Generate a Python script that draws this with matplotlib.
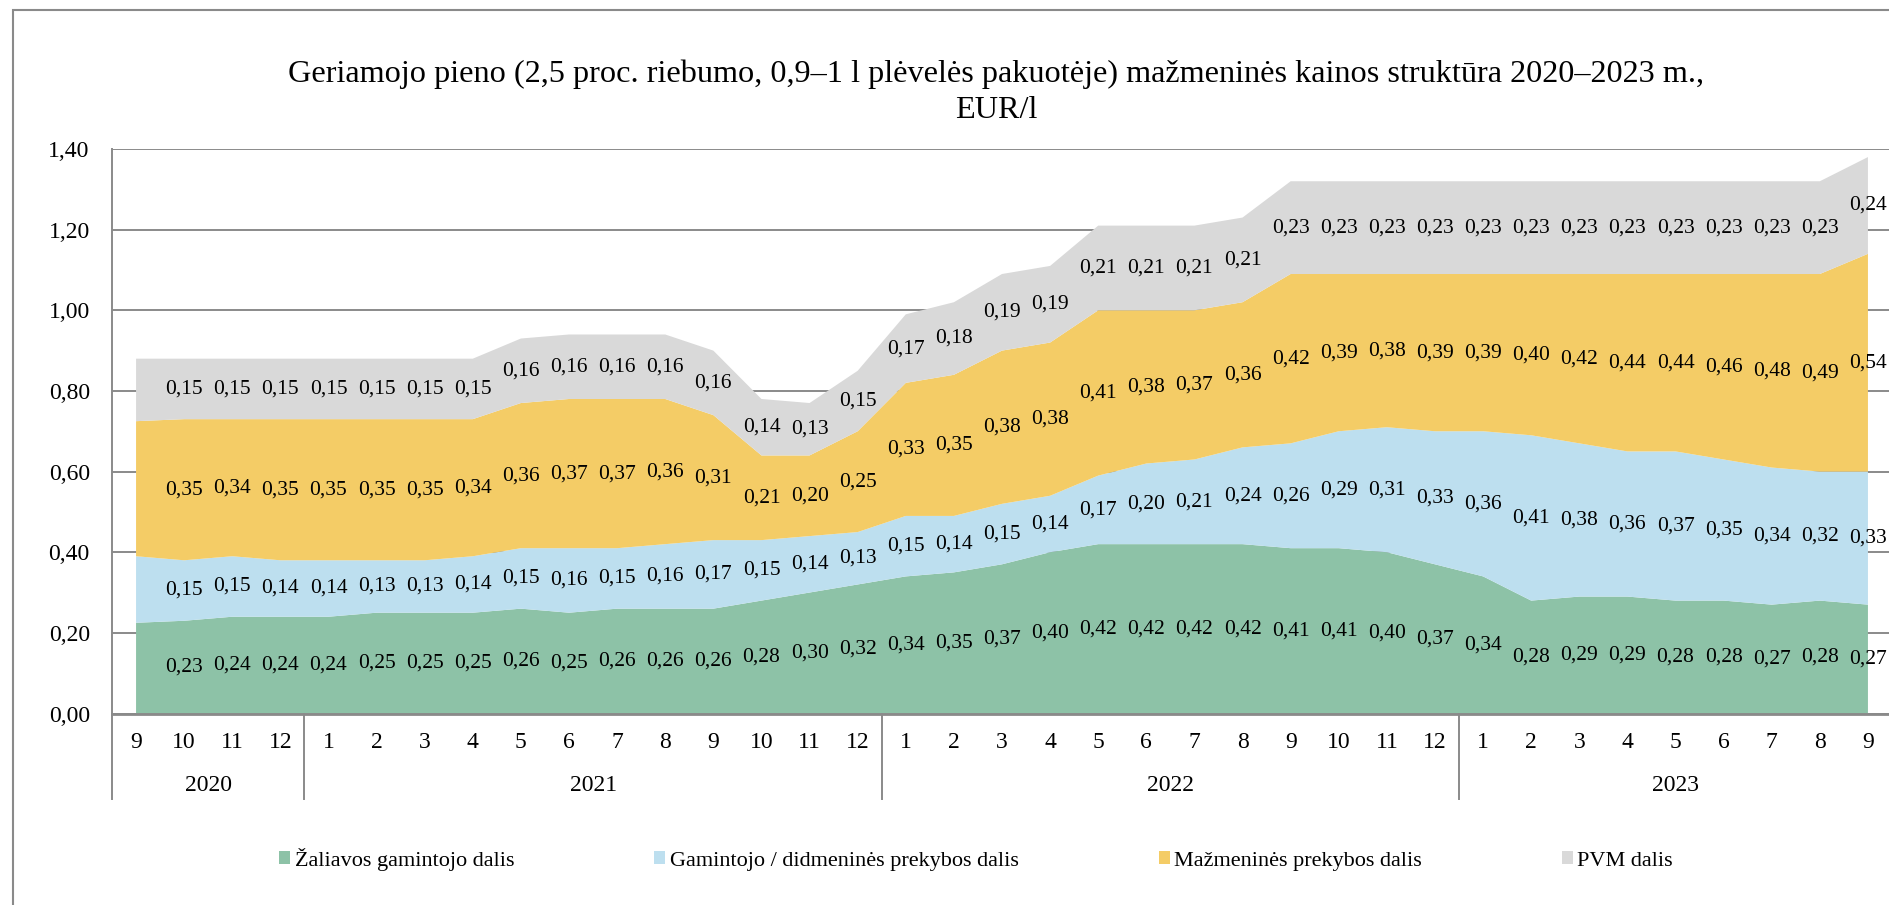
import matplotlib
matplotlib.use("Agg")
import matplotlib.pyplot as plt
from matplotlib.patches import Patch, Rectangle

plt.rcParams['font.family'] = ['Liberation Serif', 'DejaVu Serif']

# months 2020-09 .. 2023-09
months = ['9', '10', '11', '12'] + [str(m) for m in range(1, 13)] * 2 + [str(m) for m in range(1, 10)]
years = ['2020', '2021', '2022', '2023']
year_sizes = [4, 12, 12, 9]

series_names = ['Žaliavos gamintojo dalis', 'Gamintojo / didmeninės prekybos dalis',
                'Mažmeninės prekybos dalis', 'PVM dalis']
colors = ['#8DC2A7', '#BDDFEF', '#F4CC66', '#D9D9D9']

green = [0.225, 0.23, 0.24, 0.24,
         0.24, 0.25, 0.25, 0.25, 0.26, 0.25, 0.26, 0.26, 0.26, 0.28, 0.30, 0.32,
         0.34, 0.35, 0.37, 0.40, 0.42, 0.42, 0.42, 0.42, 0.41, 0.41, 0.40, 0.37,
         0.34, 0.28, 0.29, 0.29, 0.28, 0.28, 0.27, 0.28, 0.27]
blue = [0.165, 0.15, 0.15, 0.14,
        0.14, 0.13, 0.13, 0.14, 0.15, 0.16, 0.15, 0.16, 0.17, 0.15, 0.14, 0.13,
        0.15, 0.14, 0.15, 0.14, 0.17, 0.20, 0.21, 0.24, 0.26, 0.29, 0.31, 0.33,
        0.36, 0.41, 0.38, 0.36, 0.37, 0.35, 0.34, 0.32, 0.33]
orange = [0.335, 0.35, 0.34, 0.35,
          0.35, 0.35, 0.35, 0.34, 0.36, 0.37, 0.37, 0.36, 0.31, 0.21, 0.20, 0.25,
          0.33, 0.35, 0.38, 0.38, 0.41, 0.38, 0.37, 0.36, 0.42, 0.39, 0.38, 0.39,
          0.39, 0.40, 0.42, 0.44, 0.44, 0.46, 0.48, 0.49, 0.54]
pvm = [0.155, 0.15, 0.15, 0.15,
       0.15, 0.15, 0.15, 0.15, 0.16, 0.16, 0.16, 0.16, 0.16, 0.14, 0.13, 0.15,
       0.17, 0.18, 0.19, 0.19, 0.21, 0.21, 0.21, 0.21, 0.23, 0.23, 0.23, 0.23,
       0.23, 0.23, 0.23, 0.23, 0.23, 0.23, 0.23, 0.23, 0.24]

yticks = [0.0, 0.2, 0.4, 0.6, 0.8, 1.0, 1.2, 1.4]

W, H = 1890, 905
fig = plt.figure(figsize=(W / 100, H / 100), dpi=100)
ax = fig.add_axes([112 / W, (H - 713.5) / H, 1780 / W, (713.5 - 149) / H])

x = list(range(len(months)))
series = [green, blue, orange, pvm]
ax.stackplot(x, *series, colors=colors, linewidth=0, zorder=2)

# data labels in the middle of each band (first month has none)
base = [0.0] * len(x)
for vals in series:
    for i in range(1, len(x)):
        ax.text(i, base[i] + vals[i] / 2, f"{vals[i]:.2f}".replace('.', ','),
                ha='center', va='center', fontsize=15.5, zorder=5, clip_on=False)
    base = [b + v for b, v in zip(base, vals)]

grid_c = '#8A8A8A'
ax.set_xlim(-0.5, len(x) - 0.5)
ax.set_ylim(0, 1.4)
ax.set_yticks(yticks)
ax.set_yticklabels([f"{t:.2f}".replace('.', ',') for t in yticks], fontsize=17)
ax.tick_params(axis='y', length=0, pad=16)
ax.set_xticks([])
ax.grid(axis='y', color=grid_c, linewidth=1.4)
ax.set_axisbelow(True)
for s in ['top', 'right']:
    ax.spines[s].set_visible(False)
ax.spines['left'].set_color(grid_c)
ax.spines['left'].set_linewidth(1.4)
ax.spines['bottom'].set_color(grid_c)
ax.spines['bottom'].set_linewidth(2)
ax.spines['bottom'].set_zorder(4)

# two-level category axis
tr = ax.get_xaxis_transform()
for i, m in enumerate(months):
    ax.text(i, -0.0517, m, transform=tr, ha='center', va='center', fontsize=17)
start = 0
for y, n in zip(years, year_sizes):
    ax.text(start + (n - 1) / 2, -0.1284, y, transform=tr, ha='center', va='center', fontsize=17)
    ax.plot([start - 0.5, start - 0.5], [0, -0.1515], transform=tr, color=grid_c,
            linewidth=1.4, clip_on=False)
    start += n

# title
fig.text(996 / W, 1 - 74 / H, 'Geriamojo pieno (2,5 proc. riebumo, 0,9–1 l plėvelės pakuotėje) '
         'mažmeninės kainos struktūra 2020–2023 m.,', ha='center', va='center', fontsize=23.2)
fig.text(996 / W, 1 - 110 / H, 'EUR/l', ha='center', va='center', fontsize=23.2)

# legend
handles = [Patch(facecolor=c, edgecolor='none') for c in colors]
fig.legend(handles, series_names, loc='center', bbox_to_anchor=(976 / W, 1 - 859 / H),
           ncol=4, frameon=False, fontsize=16, handlelength=0.5, handleheight=0.55,
           handletextpad=0.2, columnspacing=6.3)

# chart area border
fig.patches.append(Rectangle((13 / W, -0.1), 1.1, 1 - 10 / H + 0.1, transform=fig.transFigure,
                             fill=False, edgecolor=grid_c, linewidth=1.5))

fig.savefig('out.png', dpi=100)
